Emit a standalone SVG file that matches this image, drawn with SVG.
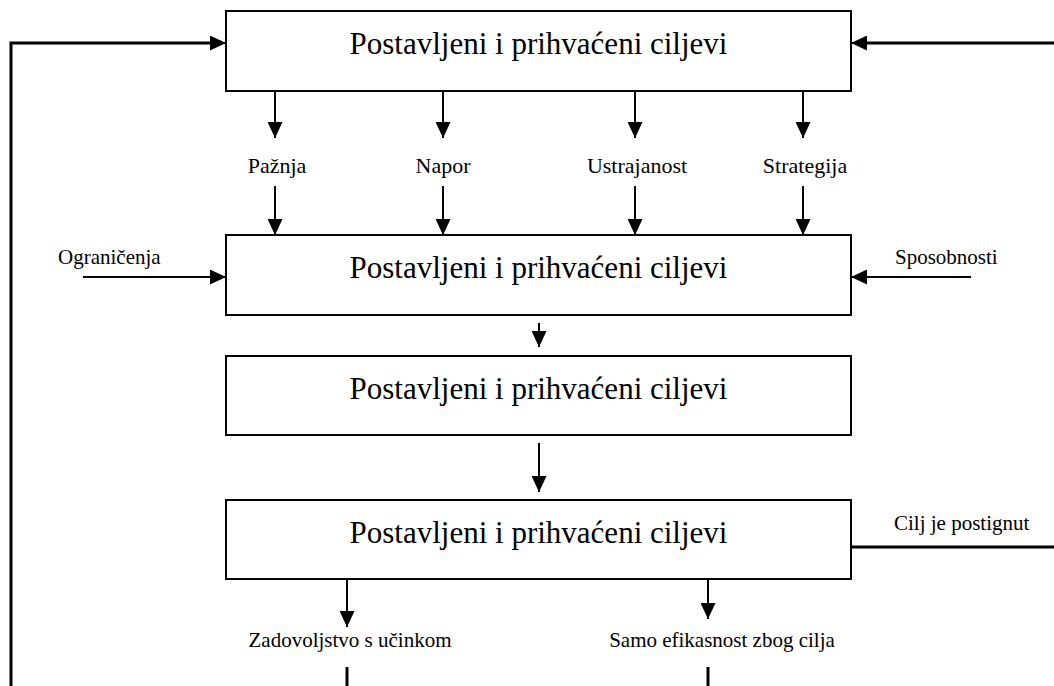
<svg xmlns="http://www.w3.org/2000/svg" width="1054" height="686" viewBox="0 0 1054 686">
<style>
.box{fill:#fff;stroke:#000;stroke-width:2}
.main{font-family:"Liberation Serif","Times New Roman",serif;font-size:31px;fill:#000;text-anchor:middle}
.lbl{font-family:"Liberation Serif","Times New Roman",serif;font-size:22px;fill:#000;text-anchor:middle}
.sm{font-family:"Liberation Serif","Times New Roman",serif;font-size:21px;fill:#000}
.ar{stroke:#000;stroke-width:2;fill:none;marker-end:url(#ah)}
.thk{stroke:#000;stroke-width:3;fill:none}
</style>
<defs>
<marker id="ah" markerUnits="userSpaceOnUse" markerWidth="16" markerHeight="15" refX="16" refY="7.5" orient="auto">
<path d="M0,0 L16,7.5 L0,15 Z" fill="#000"/>
</marker>
</defs>
<rect width="1054" height="686" fill="#fff"/>
<g id="connectors">
<polyline class="thk" points="11,686 11,43 212,43"/>
<line class="ar" x1="200" y1="43" x2="226" y2="43"/>
<line class="thk" x1="1054" y1="43" x2="865" y2="43"/>
<line class="ar" x1="880" y1="43" x2="851" y2="43"/>
<line class="ar" x1="275" y1="91" x2="275" y2="138"/>
<line class="ar" x1="443" y1="91" x2="443" y2="138"/>
<line class="ar" x1="635" y1="91" x2="635" y2="138"/>
<line class="ar" x1="803" y1="91" x2="803" y2="138"/>
<line class="ar" x1="275" y1="186" x2="275" y2="235"/>
<line class="ar" x1="443" y1="186" x2="443" y2="235"/>
<line class="ar" x1="635" y1="186" x2="635" y2="235"/>
<line class="ar" x1="803" y1="186" x2="803" y2="235"/>
<line class="ar" x1="83" y1="277" x2="226" y2="277"/>
<line class="ar" x1="971" y1="277" x2="851" y2="277"/>
<line class="ar" x1="539" y1="323" x2="539" y2="347"/>
<line class="ar" x1="539" y1="443" x2="539" y2="492"/>
<line class="thk" x1="851" y1="547" x2="1054" y2="547"/>
<line class="ar" x1="347" y1="579" x2="347" y2="627"/>
<line class="ar" x1="708" y1="579" x2="708" y2="619"/>
<line class="thk" x1="347" y1="667" x2="347" y2="686"/>
<line class="thk" x1="708" y1="667" x2="708" y2="686"/>
</g>
<g id="node1"><rect class="box" x="226" y="11" width="625" height="80"/><text class="main" x="538.5" y="54">Postavljeni i prihvaćeni ciljevi</text></g>
<g id="node2"><rect class="box" x="226" y="235" width="625" height="80"/><text class="main" x="538.5" y="278">Postavljeni i prihvaćeni ciljevi</text></g>
<g id="node3"><rect class="box" x="226" y="356" width="625" height="79"/><text class="main" x="538.5" y="399">Postavljeni i prihvaćeni ciljevi</text></g>
<g id="node4"><rect class="box" x="226" y="500" width="625" height="79"/><text class="main" x="538.5" y="543">Postavljeni i prihvaćeni ciljevi</text></g>
<g id="labels">
<text class="lbl" x="277" y="173">Pažnja</text>
<text class="lbl" x="443" y="173">Napor</text>
<text class="lbl" x="637" y="173">Ustrajanost</text>
<text class="lbl" x="805" y="173">Strategija</text>
<text class="sm" x="58" y="264">Ograničenja</text>
<text class="sm" x="895" y="264">Sposobnosti</text>
<text class="sm" x="894" y="530">Cilj je postignut</text>
<text class="sm" x="350" y="647" text-anchor="middle">Zadovoljstvo s učinkom</text>
<text class="sm" x="722" y="647" text-anchor="middle">Samo efikasnost zbog cilja</text>
</g>
</svg>
